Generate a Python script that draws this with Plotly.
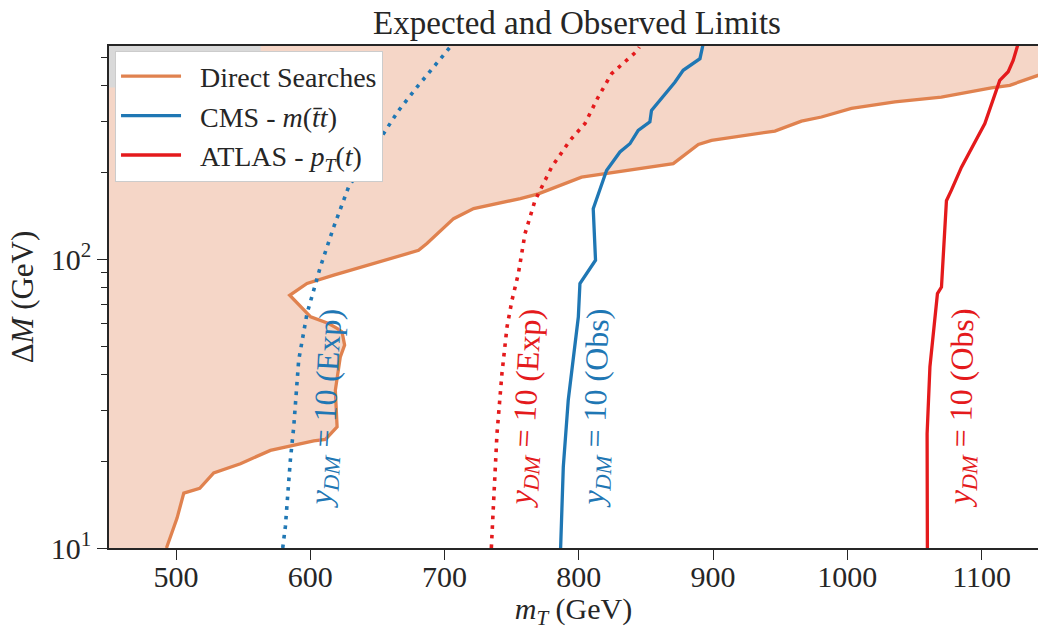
import math
import plotly.graph_objects as go

# ---------------- data ----------------
direct_x = [492.8, 500.7, 505.7, 517.6, 528.0, 547.9, 570.2, 587.6, 602.5, 611.2, 619.9, 618.6,
            622.3, 625.5, 623.6, 619.9, 613.6, 600.2, 584.6, 597.5, 617.4, 680.6, 686.8, 706.7,
            721.6, 756.4, 769.8, 802.0, 870.3, 889.0, 898.8, 946.0, 965.8, 980.7, 1003.0,
            1035.4, 1070.0, 1107.3, 1121.0, 1142.0, 1150.0]
direct_y = [10.0, 12.7, 15.5, 16.1, 18.2, 19.6, 21.8, 22.7, 23.5, 23.8, 26.3, 35.2,
            46.0, 50.5, 56.1, 57.7, 60.0, 63.3, 75.2, 82.6, 88.3, 107.6, 113.6, 138.6,
            150.2, 162.7, 169.0, 193.0, 215.0, 250.6, 259.0, 279.0, 302.0, 312.0, 334.0,
            352.0, 366.0, 394.0, 402.0, 435.0, 445.0]

cms_exp_x = [579.4, 581.4, 585.1, 587.6, 591.3, 597.5, 607.4, 617.4, 628.5, 665.8, 679.4, 704.2]
cms_exp_y = [10.0, 11.9, 20.2, 26.3, 44.8, 65.0, 94.2, 129.7, 178.6, 329.0, 396.0, 546.0]

cms_obs_x = [786.4, 788.4, 792.1, 795.8, 798.3, 799.6, 800.8, 812.4, 810.7, 820.6, 830.6, 838.0,
             844.2, 852.9, 854.1, 861.6, 871.5, 877.7, 890.2, 892.6]
cms_obs_y = [10.0, 19.1, 32.6, 44.8, 55.5, 63.2, 82.6, 99.5, 150.0, 203.5, 236.0, 252.0,
             280.6, 300.0, 329.0, 361.0, 412.0, 453.0, 497.0, 560.0]

atlas_exp_x = [734.8, 736.5, 739.0, 742.7, 746.5, 750.2, 754.9, 759.9, 767.3, 779.7, 793.4,
               804.5, 814.4, 824.4, 843.0, 845.0]
atlas_exp_y = [10.0, 13.9, 24.9, 40.3, 58.5, 72.3, 89.3, 123.0, 160.0, 209.0, 259.0,
               296.0, 366.0, 441.0, 527.0, 545.0]

atlas_obs_x = [1059.6, 1059.4, 1061.5, 1066.4, 1067.1, 1070.1, 1073.8, 1077.5, 1085.0, 1102.4,
               1107.3, 1113.5, 1119.8, 1123.5, 1127.2]
atlas_obs_y = [10.0, 24.9, 42.5, 72.3, 76.2, 80.3, 160.0, 174.0, 209.0, 296.0,
               347.0, 418.0, 448.0, 490.0, 560.0]

x_range = [450, 1142]
y_range = [10, 550]

x_ticks = [500, 600, 700, 800, 900, 1000, 1100]
y_ticks = [10, 100]
y_ticktext = ["10<sup>1</sup>", "10<sup>2</sup>"]
y_minor = [20, 30, 40, 50, 60, 70, 80, 90, 200, 300, 400, 500]

labels = [
    dict(text="<i>y</i><sub><i>DM</i></sub> = 10 (Exp)", x=612.7, y=30.5, color="#1f77b4", angle=-87),
    dict(text="<i>y</i><sub><i>DM</i></sub> = 10 (Exp)", x=761.6, y=30.5, color="#e41a1c", angle=-87),
    dict(text="<i>y</i><sub><i>DM</i></sub> = 10 (Obs)", x=813.7, y=30.5, color="#1f77b4", angle=-88.5),
    dict(text="<i>y</i><sub><i>DM</i></sub> = 10 (Obs)", x=1086.2, y=30.5, color="#e41a1c", angle=-89),
]

legend_names = ["Direct Searches",
                "CMS - <i>m</i>(<i>t\u0304t</i>)",
                "ATLAS - <i>p</i><sub><i>T</i></sub>(<i>t</i>)"]

ORANGE = "#E0824F"
BLUE = "#1f77b4"
RED = "#e41a1c"
FONT = "Liberation Serif"
INK = "#262626"
PAD = "\u00a0\u00a0"

fig = go.Figure()

# filled excluded region (curve closed to top-left corner of the axes)
fill_x = direct_x + [x_range[1] + 20, x_range[0] - 20, x_range[0] - 20]
fill_y = direct_y + [y_range[1] * 1.2, y_range[1] * 1.2, y_range[0]]
fig.add_trace(go.Scatter(x=fill_x, y=fill_y, mode="lines", fill="toself",
                         fillcolor="rgba(224,128,80,0.32)", line=dict(width=0),
                         showlegend=False, hoverinfo="skip"))

fig.add_trace(go.Scatter(x=direct_x, y=direct_y, mode="lines", name=PAD + legend_names[0],
                         line=dict(color=ORANGE, width=3.3)))
fig.add_trace(go.Scatter(x=cms_obs_x, y=cms_obs_y, mode="lines", name=PAD + legend_names[1],
                         line=dict(color=BLUE, width=3.3)))
fig.add_trace(go.Scatter(x=atlas_obs_x, y=atlas_obs_y, mode="lines", name=PAD + legend_names[2],
                         line=dict(color=RED, width=3.3)))
fig.add_trace(go.Scatter(x=cms_exp_x, y=cms_exp_y, mode="lines", showlegend=False,
                         line=dict(color=BLUE, width=3.6, dash="3.6px,6px")))
fig.add_trace(go.Scatter(x=atlas_exp_x, y=atlas_exp_y, mode="lines", showlegend=False,
                         line=dict(color=RED, width=3.6, dash="3.6px,6px")))

for lab in labels:
    # annotations on a log axis are positioned in log10 units
    fig.add_annotation(x=lab["x"], y=math.log10(lab["y"]), xref="x", yref="y", text=lab["text"],
                       showarrow=False, textangle=lab["angle"],
                       font=dict(family=FONT, size=32, color=lab["color"]),
                       xanchor="center", yanchor="middle")

# small grey corner visible in the reference above/left of the legend
fig.add_shape(type="rect", xref="x", yref="y", x0=x_range[0], x1=563, y0=395, y1=y_range[1],
              fillcolor="#d9d9d9", line=dict(width=0), layer="above")

axis_common = dict(showgrid=False, zeroline=False, showline=True, linecolor=INK,
                   linewidth=1.6, ticks="outside", ticklen=10, tickwidth=1.3,
                   tickcolor=INK, tickfont=dict(family=FONT, size=30, color=INK))

fig.update_layout(
    width=1038, height=630,
    margin=dict(l=109, r=0, t=46, b=82),
    paper_bgcolor="white", plot_bgcolor="white",
    title=dict(text="Expected and Observed Limits", x=577 / 1038, xanchor="center",
               y=1 - 22 / 630, yanchor="middle",
               font=dict(family=FONT, size=33, color=INK)),
    xaxis=dict(range=x_range, tickvals=x_ticks, mirror=True, ticklabelstandoff=-9,
               title=dict(text="<i>m</i><sub><i>T</i></sub> (GeV)", standoff=16,
                          font=dict(family=FONT, size=30, color=INK)),
               **axis_common),
    yaxis=dict(type="log", range=[math.log10(v) for v in y_range],
               tickvals=y_ticks, ticktext=y_ticktext,
               minor=dict(tickvals=y_minor, ticks="outside", ticklen=6, tickwidth=1.1,
                          tickcolor=INK),
               title=dict(text="\u0394<i>M</i> (GeV)", standoff=8,
                          font=dict(family=FONT, size=31, color=INK)),
               **axis_common),
    legend=dict(x=0.0065, y=0.991, xanchor="left", yanchor="top",
                bgcolor="white", bordercolor="#cccccc", borderwidth=1,
                font=dict(family=FONT, size=28, color=INK),
                itemwidth=60, tracegroupgap=0),
    showlegend=True,
)

fig.write_html("out.html")
